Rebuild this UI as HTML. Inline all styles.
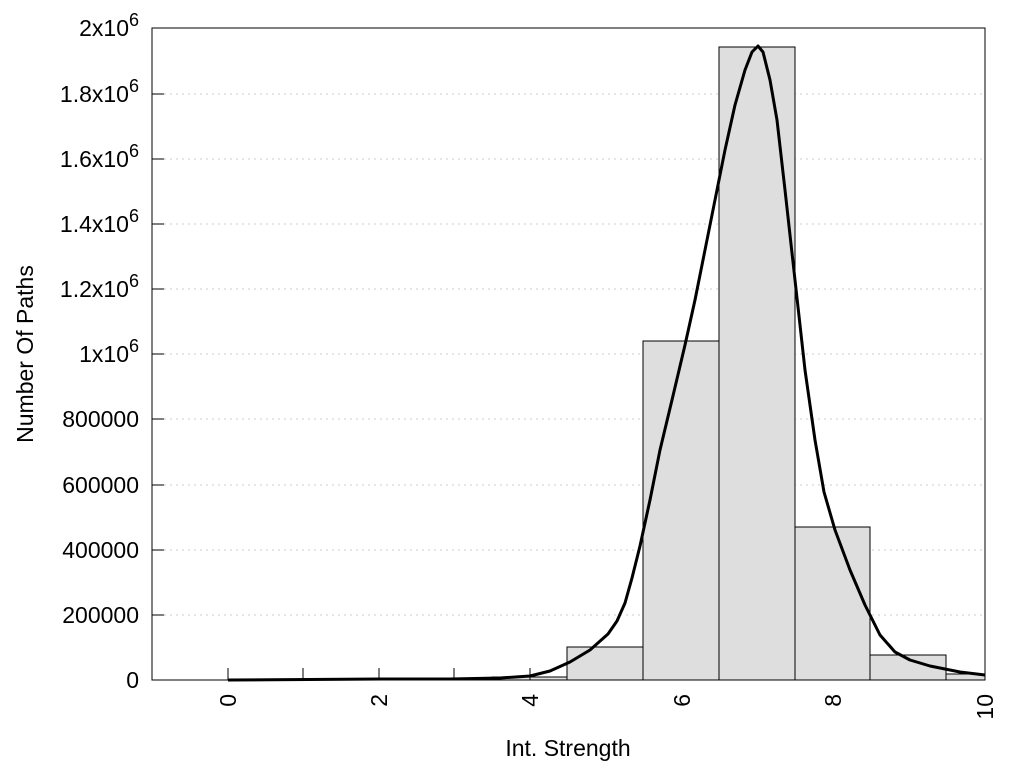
<!DOCTYPE html>
<html><head><meta charset="utf-8"><style>body{margin:0;background:#fff}</style></head><body>
<svg width="1024" height="768" xmlns="http://www.w3.org/2000/svg" font-family="Liberation Sans, sans-serif" font-size="23">
<rect width="1024" height="768" fill="#fff"/>
<g stroke="#ccc" stroke-dasharray="2,4" stroke-width="1">
<line x1="164" x2="985" y1="94" y2="94"/><line x1="164" x2="985" y1="159" y2="159"/><line x1="164" x2="985" y1="224" y2="224"/><line x1="164" x2="985" y1="289" y2="289"/><line x1="164" x2="985" y1="354" y2="354"/><line x1="164" x2="985" y1="419" y2="419"/><line x1="164" x2="985" y1="485" y2="485"/><line x1="164" x2="985" y1="550" y2="550"/><line x1="164" x2="985" y1="615" y2="615"/>
</g>
<g fill="#dedede" stroke="#000" stroke-width="1">
<rect x="492" y="677" width="75" height="3"/>
<rect x="567" y="647" width="76" height="33"/>
<rect x="643" y="341" width="76" height="339"/>
<rect x="719" y="47" width="76" height="633"/>
<rect x="795" y="527" width="75" height="153"/>
<rect x="870" y="655" width="76" height="25"/>
<rect x="946" y="674" width="39" height="6"/>
</g>
<g stroke="#000" stroke-width="1">
<line x1="152" x2="164" y1="94" y2="94"/><line x1="152" x2="164" y1="159" y2="159"/><line x1="152" x2="164" y1="224" y2="224"/><line x1="152" x2="164" y1="289" y2="289"/><line x1="152" x2="164" y1="354" y2="354"/><line x1="152" x2="164" y1="419" y2="419"/><line x1="152" x2="164" y1="485" y2="485"/><line x1="152" x2="164" y1="550" y2="550"/><line x1="152" x2="164" y1="615" y2="615"/>
<line x1="228" x2="228" y1="668" y2="680"/><line x1="303" x2="303" y1="668" y2="680"/><line x1="379" x2="379" y1="668" y2="680"/><line x1="454" x2="454" y1="668" y2="680"/><line x1="530" x2="530" y1="668" y2="680"/>
</g>
<polyline fill="none" stroke="#000" stroke-width="3" stroke-linejoin="round" points="228,680 380,679 450,679 500,678 530,676 550,671 570,662 590,650 608,634 617,621 625,603 632,578 640,546 650,500 660,450 672,400 685,345 695,300 705,250 715,200 725,150 735,105 745,70 752,52 758,46 763,52 770,80 777,120 785,190 795,280 805,370 815,440 824,492 835,530 850,570 865,605 880,635 895,652 910,660 930,666 960,672 985,675"/>
<rect x="152" y="28" width="833" height="652" fill="none" stroke="#000" stroke-width="1"/>
<g text-anchor="end">
<text x="139" y="36">2x10<tspan dy="-10" font-size="18">6</tspan></text>
<text x="139" y="102">1.8x10<tspan dy="-10" font-size="18">6</tspan></text>
<text x="139" y="167">1.6x10<tspan dy="-10" font-size="18">6</tspan></text>
<text x="139" y="232">1.4x10<tspan dy="-10" font-size="18">6</tspan></text>
<text x="139" y="297">1.2x10<tspan dy="-10" font-size="18">6</tspan></text>
<text x="139" y="362">1x10<tspan dy="-10" font-size="18">6</tspan></text>
<text x="139" y="427">800000</text>
<text x="139" y="493">600000</text>
<text x="139" y="558">400000</text>
<text x="139" y="623">200000</text>
<text x="139" y="688">0</text>
</g>
<g text-anchor="end">
<text transform="translate(236,694) rotate(-90)">0</text>
<text transform="translate(387,694) rotate(-90)">2</text>
<text transform="translate(538,694) rotate(-90)">4</text>
<text transform="translate(690,694) rotate(-90)">6</text>
<text transform="translate(841,694) rotate(-90)">8</text>
<text transform="translate(993,694) rotate(-90)">10</text>
</g>
<text x="568" y="756" text-anchor="middle">Int. Strength</text>
<text transform="translate(33,354) rotate(-90)" text-anchor="middle">Number Of Paths</text>
</svg>
</body></html>
